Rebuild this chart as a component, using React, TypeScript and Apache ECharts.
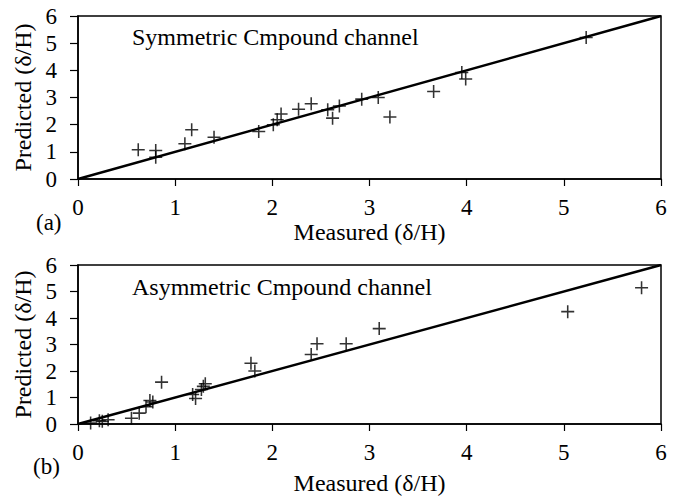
import React, { useEffect, useRef } from "react";
import * as echarts from "echarts";

const symX = [0.62, 0.8, 0.8, 1.1, 1.17, 1.4, 1.86, 2.01, 2.05, 2.09, 2.27, 2.4, 2.57, 2.62, 2.69, 2.92, 3.09, 3.21, 3.66, 3.95, 3.99, 5.23];
const symY = [1.08, 1.05, 0.8, 1.3, 1.81, 1.54, 1.75, 2.0, 2.18, 2.39, 2.57, 2.77, 2.55, 2.24, 2.69, 2.94, 3.0, 2.28, 3.22, 3.92, 3.68, 5.21];

const asymX = [0.13, 0.22, 0.25, 0.31, 0.55, 0.63, 0.7, 0.74, 0.77, 0.86, 1.18, 1.21, 1.27, 1.29, 1.31, 1.78, 1.82, 2.4, 2.46, 2.76, 3.1, 5.04, 5.8];
const asymY = [0.04, 0.12, 0.1, 0.16, 0.22, 0.41, 0.65, 0.89, 0.83, 1.58, 1.11, 0.96, 1.3, 1.42, 1.52, 2.29, 2.0, 2.62, 3.03, 3.03, 3.6, 4.24, 5.14];

const lineEnds = [[0, 0], [6, 6]];
const tickMin = 0;
const tickMax = 6;

const FONT = "'Liberation Serif', 'Times New Roman', Times, serif";
const CROSS = "path://M4.4,0h1.2v4.4h4.4v1.2h-4.4v4.4h-1.2v-4.4h-4.4v-1.2h4.4z";

export default function App() {
  const ref = useRef<HTMLDivElement>(null);
  useEffect(() => {
    if (!ref.current) return;
    const chart = echarts.init(ref.current, null, { renderer: "svg" });
    const mkX = (gi: number, gap: number) => ({
      type: "value",
      gridIndex: gi,
      min: tickMin,
      max: tickMax,
      interval: 1,
      name: "Measured (δ/H)",
      nameLocation: "middle",
      nameGap: gap,
      nameTextStyle: { fontFamily: FONT, fontSize: 24, color: "#000" },
      axisLine: { show: true, lineStyle: { color: "#000", width: 1.5 } },
      axisTick: { show: true, inside: false, length: 7, lineStyle: { color: "#000", width: 1.2 } },
      axisLabel: { fontFamily: FONT, fontSize: 23, color: "#000", margin: 17 },
      splitLine: { show: false },
    });
    const mkY = (gi: number) => ({
      type: "value",
      gridIndex: gi,
      min: tickMin,
      max: tickMax,
      interval: 1,
      name: "Predicted (δ/H)",
      nameLocation: "middle",
      nameGap: 41,
      nameTextStyle: { fontFamily: FONT, fontSize: 24, color: "#000" },
      axisLine: { show: true, lineStyle: { color: "#000", width: 1.5 } },
      axisTick: { show: true, inside: false, length: 8, lineStyle: { color: "#000", width: 1.2 } },
      axisLabel: { fontFamily: FONT, fontSize: 23, color: "#000", margin: 21 },
      splitLine: { show: false },
    });
    const scatter = (gi: number, xs: number[], ys: number[]) => ({
      type: "scatter",
      xAxisIndex: gi,
      yAxisIndex: gi,
      symbol: CROSS,
      symbolSize: 13,
      itemStyle: { color: "#000" },
      data: xs.map((x, i) => [x, ys[i]]),
    });
    const line = (gi: number) => ({
      type: "line",
      xAxisIndex: gi,
      yAxisIndex: gi,
      symbol: "none",
      lineStyle: { color: "#000", width: 2.5 },
      data: lineEnds,
      z: 1,
    });
    chart.setOption({
      animation: false,
      backgroundColor: "#fff",
      textStyle: { fontFamily: FONT },
      grid: [
        { left: 78, right: 21, top: 16, height: 163, show: true, borderColor: "#000", borderWidth: 1.5 },
        { left: 78, right: 21, top: 265, height: 162, show: true, borderColor: "#000", borderWidth: 1.5 },
      ],
      xAxis: [mkX(0, 37), mkX(1, 47)],
      yAxis: [mkY(0), mkY(1)],
      series: [line(0), scatter(0, symX, symY), line(1), scatter(1, asymX, asymY)],
      graphic: [
        { type: "text", left: 132, top: 25, style: { text: "Symmetric Cmpound channel", fontFamily: FONT, fontSize: 24, fill: "#000" } },
        { type: "text", left: 132, top: 275, style: { text: "Asymmetric Cmpound channel", fontFamily: FONT, fontSize: 24, fill: "#000" } },
        { type: "text", left: 36, top: 211, style: { text: "(a)", fontFamily: FONT, fontSize: 23, fill: "#000" } },
        { type: "text", left: 33, top: 455, style: { text: "(b)", fontFamily: FONT, fontSize: 23, fill: "#000" } },
      ],
    });
    return () => chart.dispose();
  }, []);
  return <div ref={ref} style={{ position: "fixed", left: 0, top: 0, width: 682, height: 496 }} />;
}
